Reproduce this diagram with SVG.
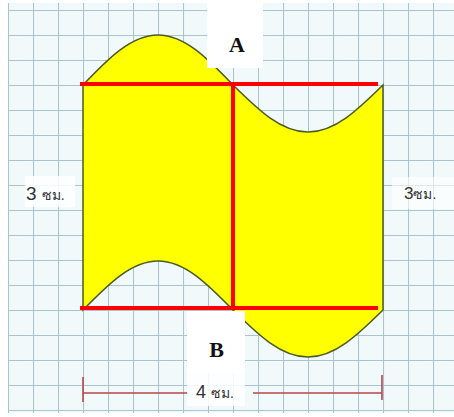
<svg xmlns="http://www.w3.org/2000/svg" width="454" height="417" viewBox="0 0 454 417">
<style>
.lbl{font-family:"Liberation Serif","Times New Roman",serif;font-weight:bold;font-size:22px;fill:#111;text-anchor:middle}
.dim{font-family:"Liberation Sans",Arial,"Noto Sans",sans-serif;fill:#333}
.red{stroke:#ff0000;stroke-width:4;fill:none;stroke-linecap:butt}
.dl{stroke:#b54848;stroke-width:1.6;fill:none}
</style>
<defs>
<pattern id="grid" x="8" y="10" width="25" height="25" patternUnits="userSpaceOnUse">
<rect width="25" height="25" fill="#f2f9fb"/>
<path d="M0.5,0 V25 M0,0.5 H25" stroke="#aac5cf" stroke-width="1.1"/>
</pattern>
</defs>
<rect width="454" height="417" fill="#ffffff"/>
<g id="paper"><rect x="8" y="3" width="446" height="410" fill="url(#grid)"/></g>
<g id="shape">
<path d="M83,85 C107.46,59.4 130.86,35 158,35 C185.14,35 208.54,59.4 233,85 C257.46,109.08 280.86,132 308,132 C335.14,132 358.54,109.08 383,85 L383,310 C358.54,334.08 335.14,357 308,357 C280.86,357 257.46,334.08 233,310 C208.54,285 185.14,261 158,261 C130.86,261 107.46,285 83,310 Z" fill="#ffff00" stroke="#4a5c22" stroke-width="1.5"/>
</g>
<g id="connectors">
<path class="red" d="M80,84 H378"/>
<path class="red" d="M80,308 H378"/>
<path class="red" d="M233,84 V308"/>
<path class="dl" d="M83,377 V402 M83,393 H188 M253,393 H382 M382,375 V400"/>
</g>
<g id="label-A"><rect x="207" y="0" width="56" height="68" fill="#ffffff"/><text class="lbl" x="237" y="52">A</text></g>
<g id="label-B"><rect x="187" y="311" width="58" height="62" fill="#ffffff"/><text class="lbl" x="216.5" y="357">B</text></g>
<g id="label-4"><rect x="187" y="373" width="58" height="33" fill="#ffffff" opacity="0.85"/><text class="dim" x="196" y="398" font-size="18">4 <tspan font-size="14">ซม.</tspan></text></g>
<g id="label-left"><rect x="25" y="176" width="50" height="31" fill="#ffffff" opacity="0.85"/><text class="dim" x="26" y="200" font-size="19">3 <tspan font-size="14">ซม.</tspan></text></g>
<g id="label-right"><rect x="392" y="177" width="62" height="32" fill="#ffffff" opacity="0.6"/><text class="dim" x="404" y="199" font-size="17">3<tspan font-size="14">ซม.</tspan></text></g>
</svg>
